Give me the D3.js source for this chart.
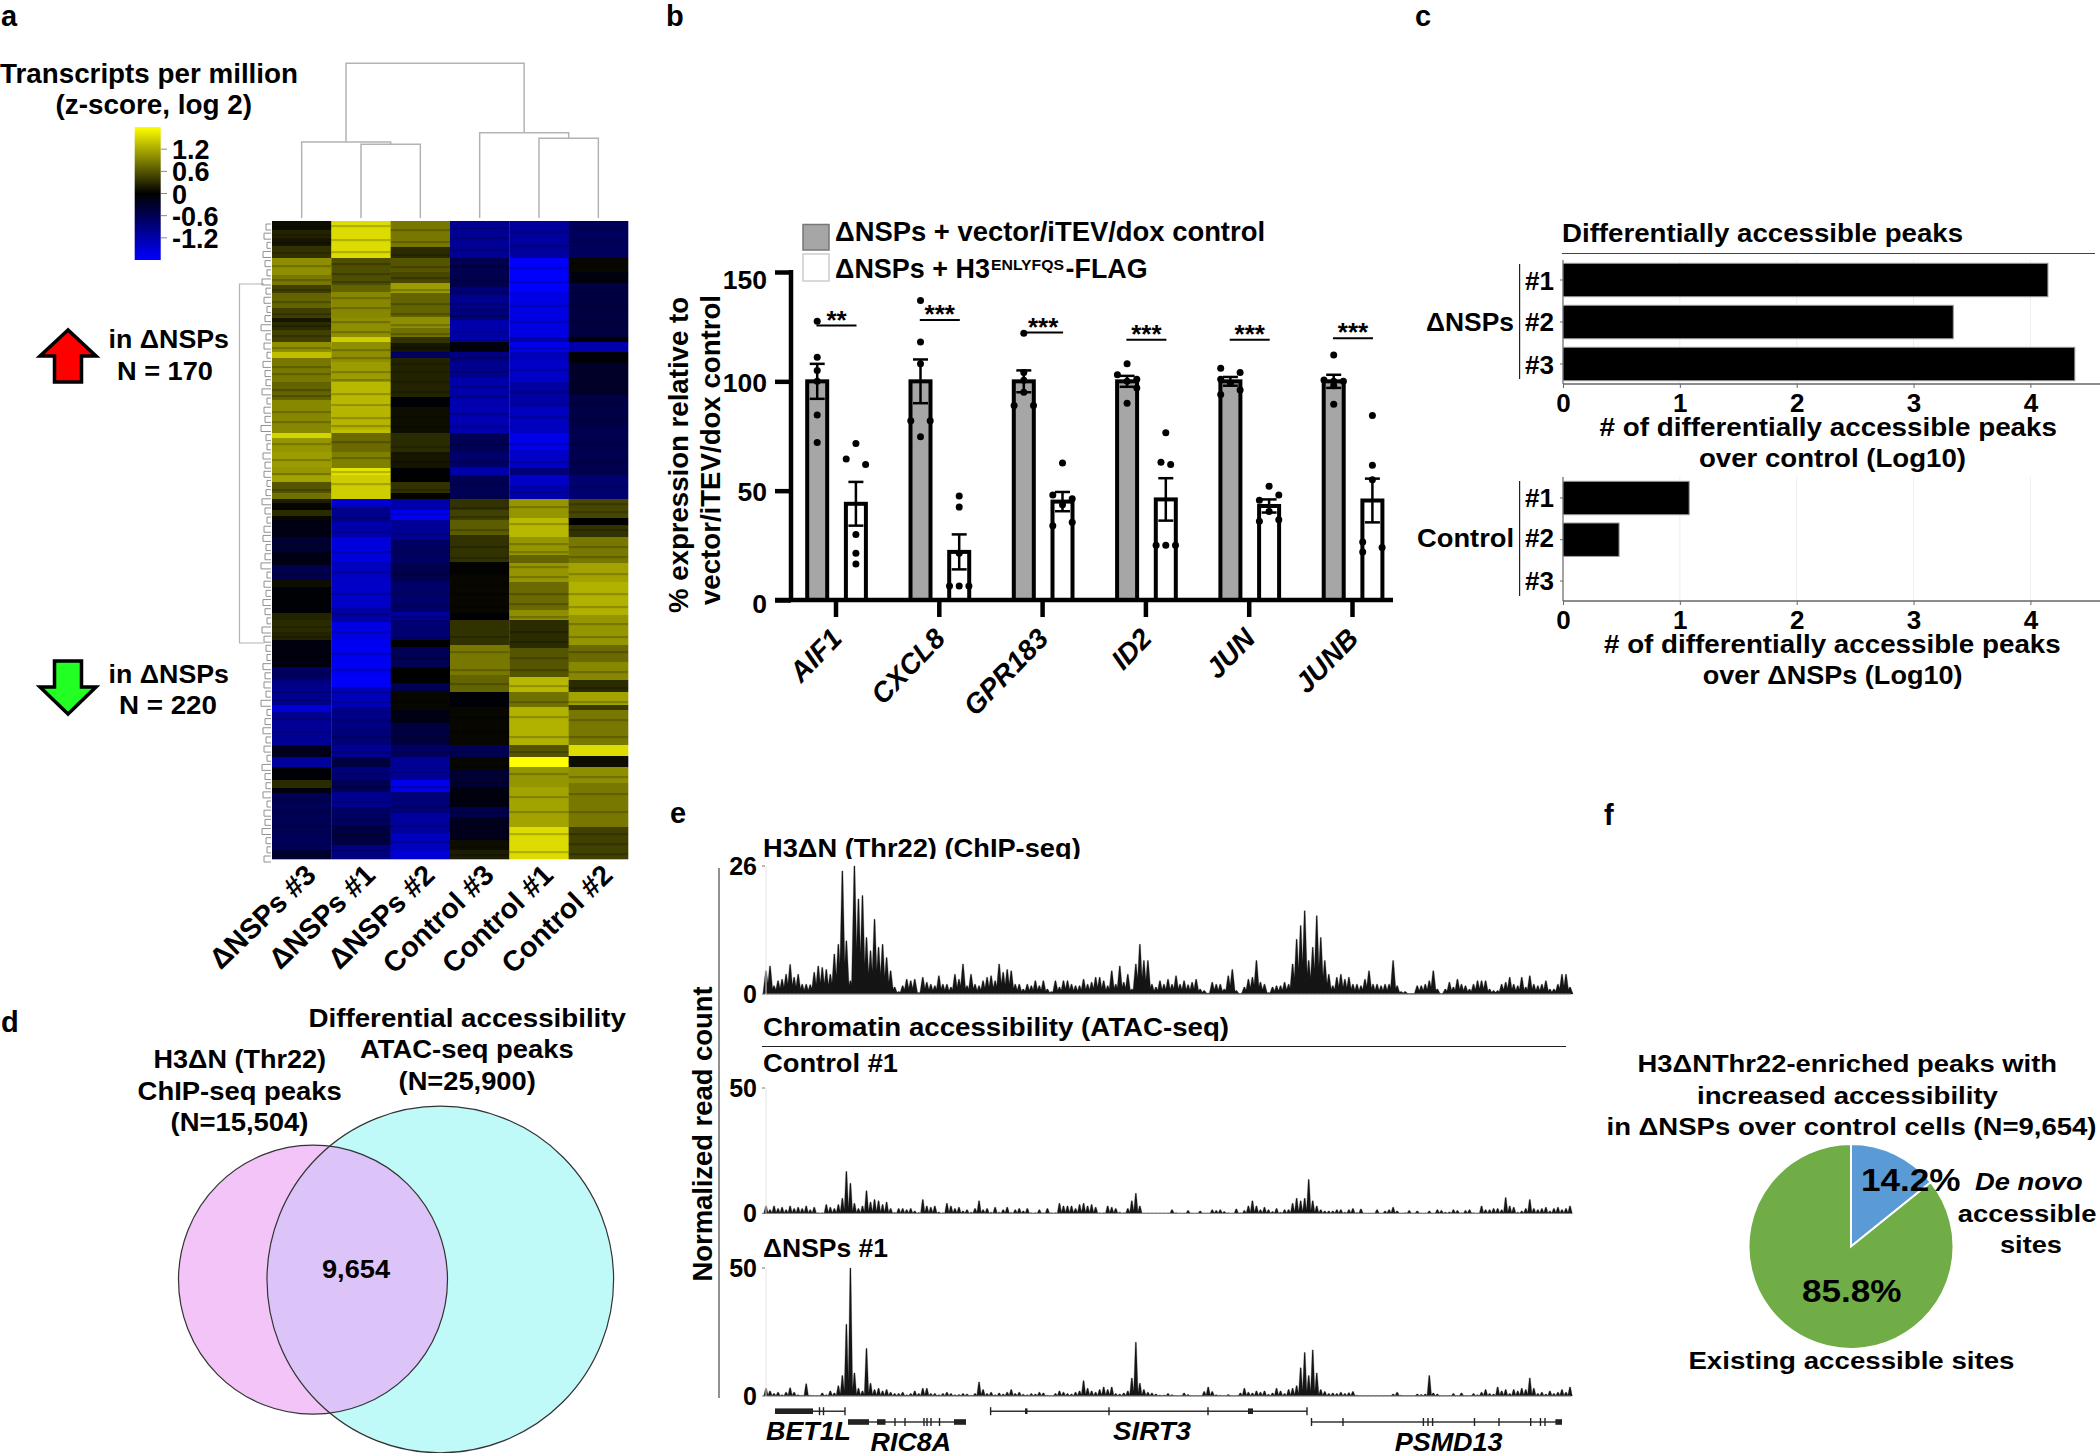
<!DOCTYPE html>
<html><head><meta charset="utf-8">
<script src="https://cdnjs.cloudflare.com/ajax/libs/d3/7.8.5/d3.min.js"></script>
<style>html,body{margin:0;background:#fff}svg{display:block}text{font-family:"Liberation Sans",Arial,sans-serif;font-weight:700;fill:#000}</style>
</head><body><svg id="c" width="2100" height="1453"></svg>
<script>
// ---------- DATA ----------
const heatSamples=["ΔNSPs #3","ΔNSPs #1","ΔNSPs #2","Control #3","Control #1","Control #2"];
// each column: [cluster-rank end of block, z-score]
const hmNsp3=[[9,.1],[17,.25],[25,.15],[37,.35],[54,1],[64,.85],[72,.45],[87,.7],[97,.45],[101,.15],[109,.3],[121,.45],[131,1],[137,1.35],[161,.85],[179,.7],[212,.95],[217,1.5],[231,1.05],[246,1.1],[254,1.05],[261,1.15],[272,.6],[278,.8],[282,.2],[289,.05],[295,.3],[299,.05],[316,-.15],[331,-.35],[344,-.15],[359,-.55],[366,.1],[392,-.05],[399,.25],[411,.3],[419,.25],[446,-.1],[459,-.7],[464,-.9],[484,-1],[491,-1.5],[524,-1.05],[536,-.2],[546,-1.1],[559,-.05],[567,.3],[572,-.1],[616,-.6],[629,-.65],[638,-.35]];
const hmNsp1=[[37,1.55],[64,.55],[71,.7],[97,.95],[116,1],[121,1.45],[141,1],[161,1.1],[187,1.3],[209,1.28],[212,1.35],[231,.75],[247,.9],[254,1.6],[278,1.45],[287,-1.5],[301,-1],[316,-1.2],[341,-1.55],[357,-1.35],[387,-1.4],[401,-1.15],[419,-1.6],[454,-1.7],[466,-1.75],[486,-1.3],[506,-.95],[524,-.85],[536,-1.05],[546,-.45],[559,-.85],[571,-.6],[586,-1],[604,-.7],[624,-.45],[638,-.9]];
const hmNsp2=[[26,.85],[37,.3],[51,.6],[62,.5],[72,1.1],[96,.7],[107,1],[116,.8],[122,.35],[131,.15],[137,-.7],[176,.25],[186,-.05],[212,.1],[231,.3],[247,.15],[261,-.02],[272,.35],[278,.02],[289,-1.2],[299,-1.7],[319,-1.05],[342,-.7],[361,-.55],[391,-.75],[399,-1.1],[419,-.8],[426,0],[446,-.6],[462,0],[471,-.6],[489,.05],[502,-.15],[524,-.45],[536,-.7],[559,-1.05],[571,-1.65],[592,-.85],[612,-1.1],[629,-1.35],[638,-1.5]];
const hmCtl3=[[37,-1.05],[66,-.55],[74,-.85],[87,-1],[99,-.85],[121,-1.2],[131,-.1],[141,-.9],[157,-1],[181,-1.2],[212,-1.25],[231,-.6],[246,-.75],[254,-1.2],[278,-.6],[289,.35],[299,.45],[314,.65],[341,.35],[354,.02],[392,.05],[399,-.05],[424,.35],[454,.85],[471,.7],[486,-.05],[524,.05],[536,-.6],[549,.05],[566,-.35],[586,-.1],[596,-.55],[619,-.2],[629,.1],[638,.2]];
const hmCtl1=[[37,-1.1],[71,-1.8],[116,-1.6],[121,-1.15],[131,-1.65],[139,-1.3],[161,-1.4],[186,-1.15],[212,-1.35],[229,-1.65],[247,-1.4],[254,-.85],[264,-1.4],[278,-1.2],[297,1.05],[316,1.3],[334,1.05],[342,.7],[361,1.05],[389,.75],[399,1],[427,.3],[456,.6],[471,1.3],[486,.8],[524,1.25],[536,.6],[546,1.8],[566,1.05],[606,1.15],[638,1.55]];
const hmCtl2=[[37,-.65],[51,.05],[62,-.1],[71,-.5],[116,-.45],[121,0],[131,-1.2],[142,-.05],[174,-.3],[207,-.5],[254,-.55],[278,-.8],[297,.5],[304,0],[316,.35],[342,.85],[361,1.15],[394,1.25],[424,1.05],[441,.75],[459,.95],[471,.3],[484,1.15],[489,.4],[524,.85],[535,1.55],[546,.1],[562,1],[606,.85],[638,.45]];
const heatColumns=[hmNsp3,hmNsp1,hmNsp2,hmCtl3,hmCtl1,hmCtl2];
// thin darker gene rows inside the blocks, per column
const stripeNsp3=[5,13,21,31,44,58,68,80,92,104,114,126,145,152,168,174,190,200,222,238,252,268,286,303,322,338,352,372,384,405,415,435,452,470,478,497,510,530,552,578,590,604,622,632];
const stripeNsp1=[4,18,30,42,52,60,76,86,100,110,128,136,150,158,172,183,196,204,220,236,250,262,285,296,310,330,350,372,392,410,432,448,470,480,498,515,530,552,565,580,598,612,628];
const stripeNsp2=[8,20,33,45,56,68,82,92,103,112,126,142,150,160,170,182,195,205,225,240,258,268,292,312,330,352,370,384,395,416,436,455,468,480,497,515,530,550,565,585,604,620];
const stripeCtl3=[6,16,28,44,58,70,82,94,110,118,136,150,165,175,192,205,222,240,262,275,286,295,308,325,336,348,362,372,385,396,415,430,448,462,478,495,510,530,545,560,575,590,610,625,633];
const stripeCtl1=[10,24,46,60,84,100,126,148,170,195,222,240,270,285,302,322,330,345,355,372,382,395,410,420,436,448,464,480,495,515,530,552,575,590,612,630];
const stripeCtl2=[6,20,42,58,66,84,100,118,136,150,165,182,198,222,240,265,282,290,308,325,335,352,372,385,402,415,430,450,466,480,498,515,540,555,572,590,612,622,632];
const heatStripes=[stripeNsp3,stripeNsp1,stripeNsp2,stripeCtl3,stripeCtl1,stripeCtl2];
const colourbarTicks=[1.2,.6,0,-.6,-1.2];
const rowTreeDepth=[4,6,3,7,5,3,8,4,6,3,5,9,4,6,3,7,5,4,8,3,6,5,9,4,3,7,5,6,3,4,8,5,3,6,7,4,5,9,3,6,4,7,5,3,8,6,4,3,7,5,6,4,9,3,5,7,4,6,3,8,5,4,7,3,6,5,8,4,3,6];
const genes=["AIF1","CXCL8","GPR183","ID2","JUN","JUNB"];
const controlMeans=[100,100,100,100,100,100];
const controlSem=[8,10,5,2.5,2,3];
const flagMeans=[44,22,45,46,43,45.5];
const flagSem=[10,8,4.4,9.7,3,10];
const controlDots=[[[0,127.5],[0,111],[0,105],[0,100],[0,84.6],[0,72]],[[0,137],[0,118],[0,108],[-1,82],[1,82],[0,74.6]],[[0,122],[0,104],[0,100.5],[0,95],[-1,89],[1,89]],[[0,108],[-1,103],[1,101],[0,100],[1,97],[0,90]],[[-1,106],[1,104],[-1,101],[0,99],[1,96],[-1,94]],[[0,112],[-1,100.6],[0,100],[1,100],[0,98],[0,89.5]]];
const flagDots=[[[0,71.6],[-1,64.5],[1,62],[0,30],[0,21.4],[0,16.5]],[[0,47.6],[0,42.5],[0,21.4],[-1,6.4],[0,6.4],[1,6.4]],[[0,62.7],[-1,48],[1,46.3],[0,43.6],[-1,34],[1,35.6]],[[0,76.5],[-.5,63],[.5,62],[-1,25],[0,25],[1,25]],[[0,52],[1,48],[-1,45.6],[0,40.5],[-1,36],[1,36.7]],[[0,84.4],[0,61.6],[0,55],[-1,26.5],[-1,22],[1,24]]];
const sigLevel=[125.5,128,122.3,119,119,119.7];
const sigStars=["**","***","***","***","***","***"];
const replicateLabels=["#1","#2","#3"];
const peaksNsp=[4.15,3.34,4.38];
const peaksControl=[1.08,.48,0];
const chipTrack=[4.7,5.7,1.7,2.7,3,4,6,3.4,4,2,2,1.9,4.4,5.7,5.4,5,4,8.1,10.1,25,10.8,2.7,26,19.3,20,11.5,8.8,15.2,9.5,10.1,7.4,4.7,1.4,.5,1.7,3,2.7,3,.3,3.4,2.4,2,1.7,3.7,2,2,1.4,4,3,6.1,1.7,4,2,1.7,2.7,3.4,3.7,2.7,6.1,4.4,5,4.7,2,2,1,2,1.7,2.7,1.7,2.7,1,.5,2.7,1.4,2.7,2.7,2,1.7,1.7,3,2,2.4,3.4,3.4,2.7,1.7,4.7,2,5.7,2.4,4,1,6.1,10.1,6.8,6.8,2,1.4,2.7,2,3,2,3.7,2,2.7,1.9,2.4,3,1,.7,.2,2.4,2,2,1,3.7,5,.7,.1,1.4,3,3.4,6.8,2.4,2,.3,1.4,1.7,1.7,2.4,2,6.1,11.1,13.9,16.9,6.8,9.5,15.9,11.5,6.8,4,1.7,3.4,4,3,3.4,2,2,1.7,3,4.7,2,2,1.7,2,2,6.8,1.7,.5,.5,.1,.1,1.7,1.7,2,2.7,4.7,1,.1,1,2.4,1.4,3,2,1.7,1,2,2.7,2.7,2.7,1,.7,.7,2,2.4,3.4,2,1.7,3.4,1.4,3.7,2,1.7,2,2.7,1,1,2,4,4,1.4];
const controlTrack=[3,1.5,3,2,2.5,1.5,3,2,2.5,2,3,1.5,2.5,.3,.3,3.5,2.5,2,3.5,6,16.7,12,4,2,3,9,4.5,5.5,5,3.5,4.5,2,.4,2,2,1.5,2,1,.4,5.5,3,2.5,3,.6,.3,4,3,2,2.5,1,1.5,.5,2,5,1.5,2,.5,2.5,.5,1.5,2.5,.4,1.5,2,1,2,.3,.3,1.5,.3,2,.3,.3,4,3,3,3,2,3.5,4,3,3.5,2.5,.3,.3,3,2.5,2,.5,.3,2,5,8,3,.2,.2,.2,.2,.2,.2,.2,1.5,.3,.2,.2,1.2,.2,.2,1,.2,.2,1.5,1.2,1.5,.8,.3,.2,1.8,.3,1.2,3,5,3,1.5,2.5,1.5,.8,2,.5,1.5,1.5,4,6,5,6,13.5,5,3,1.5,1,1,1,1.5,1.5,.5,1.5,2,.4,1.8,.2,.2,.2,1.5,.2,1,1.5,2.5,1,.2,.3,1.2,.2,1,.2,.2,1,.2,1.5,1.2,.5,.6,1.5,1.2,.3,1.2,1.5,.3,.2,3,1.5,1.5,2,2,1.5,6.3,3,2.5,.5,1,2,5.5,2,1.5,2,2.5,1,2,2.5,1.5,2,3];
const nspTrack=[3,2,1,1.5,.5,1.5,3.2,1.5,.5,.3,4.8,.3,.2,.2,1.2,.5,2,1.2,4,8,28,50,9,3,2,18.6,5,2.5,3,2,2.5,1.5,1,1,1.5,.5,1,2,1,3,3,1,1,.5,1,1.5,1,.5,.6,1,.8,.3,1,5.5,2.5,1,1.5,.5,1.2,.8,1.5,2.5,1,1.5,.7,.5,1,.8,1.5,1.2,.3,.2,1,2,1.5,1,.8,1.5,2,6,3,2,1.5,2.5,3.5,2.5,3.5,1,.8,1.2,2,7,21,5,2.5,1.5,1.2,.8,.4,.4,1,.5,.2,.2,1.2,.6,.2,.2,.2,1.8,3.5,1.8,.5,.3,.2,.6,.2,.2,1.2,3,1.5,1.2,2,1.5,2,.7,1.2,3,2,1,2.5,3,4,11,17,8,18,9,2.5,1.8,1,1.2,1,1.5,1,1.3,1.8,.3,.2,.2,.2,.2,.2,.2,.2,.2,.8,1.5,.3,.2,.2,.2,.8,.6,.8,8,1.2,.8,.2,.2,.2,1,.2,1.2,.2,.2,1,.5,1.5,2.5,1,.8,3.5,2,2.5,1,2.5,2,3,2.5,7,3,1,1.5,.8,2,1,1.5,2.5,1.5,3.5];
// gene models on a 0–804 kb-like coordinate
const geneModels=[
 {name:"BET1L",row:0,start:9,end:79,thick:[[9,47]],exons:[53.5,57.5,79]},
 {name:"RIC8A",row:1,start:82,end:200,thick:[[82,103],[111,119.5],[188,200]],exons:[129,139,158,161,165,173.5]},
 {name:"SIRT3",row:0,start:224.6,end:541,thick:[[259,261.5],[482,487]],exons:[224.6,343,442,541]},
 {name:"PSMD13",row:1,start:545.5,end:796,thick:[[789.4,796]],exons:[545.5,577,657.4,662,666.6,708.5,733,764.7,774.5,779]}
];
const pieShares=[14.2,85.8];
const pieColours=["#5b9bd5","#70ad47"];

// ---------- HELPERS ----------
const svg=d3.select("#c");
function T(s,x0,x1,y,size,o={}){
  const t=svg.append("text").attr("x",x0).attr("y",y).attr("font-size",size).text(s);
  if(x1!=null)t.attr("textLength",x1-x0).attr("lengthAdjust","spacingAndGlyphs");
  if(o.italic)t.attr("font-style","italic");
  if(o.anchor)t.attr("text-anchor",o.anchor);
  return t;
}
function V(s,xBase,yMid,len,size){
  return svg.append("text").attr("transform",`translate(${xBase},${yMid}) rotate(-90)`).attr("text-anchor","middle")
   .attr("font-size",size).attr("textLength",len).attr("lengthAdjust","spacingAndGlyphs").text(s);
}
[["a",1,26],["b",666,26],["c",1415,26],["d",1,1032],["e",670,823],["f",1604,825]].forEach(d=>T(d[0],d[1],null,d[2],29));

// ---------- PANEL a ----------
T("Transcripts per million",0,298,83,27);
T("(z-score, log 2)",55.5,252,114,27);
const colour=d3.scaleLinear().domain([-1.8,0,1.8]).range(["#0000ff","#000000","#ffff00"]);
const defs=svg.append("defs");
const lg=defs.append("linearGradient").attr("id","cb").attr("x1",0).attr("x2",0).attr("y1",0).attr("y2",1);
d3.range(0,1.001,.05).forEach(f=>lg.append("stop").attr("offset",f).attr("stop-color",colour(1.8-3.6*f)));
const cbY=d3.scaleLinear().domain([1.8,-1.8]).range([127,260]);
svg.append("rect").attr("x",134.7).attr("y",127).attr("width",26).attr("height",133).attr("fill","url(#cb)");
colourbarTicks.forEach(v=>{
  svg.append("line").attr("x1",161).attr("x2",167).attr("y1",cbY(v)).attr("y2",cbY(v)).attr("stroke","#888").attr("stroke-width",1);
  T(v===0?"0":(v<0?"-":"")+Math.abs(v).toFixed(1),172,null,cbY(v)+10,27);
});
const hx=d3.scaleBand().domain(heatSamples).range([272,628]);
const hy=d3.scaleLinear().domain([0,638]).range([221,859]);
heatColumns.forEach((col,c)=>{
  let prev=0;
  col.forEach(([end,z])=>{
    svg.append("rect").attr("x",hx(heatSamples[c])).attr("width",hx.bandwidth()+.3)
      .attr("y",hy(prev)).attr("height",hy(end)-hy(prev)+.3).attr("fill",colour(z));
    prev=end;
  });
  heatStripes[c].forEach(r=>{
    svg.append("rect").attr("x",hx(heatSamples[c])).attr("width",hx.bandwidth())
      .attr("y",hy(r)).attr("height",2.2).attr("fill","#000").attr("opacity",.2);
  });
});
// column dendrogram
const cx=i=>hx(heatSamples[i])+hx.bandwidth()/2;
const dg=svg.append("g").attr("fill","none").attr("stroke","#b3b3b3").attr("stroke-width",1.5);
const u=(a,ya,b,yb,top)=>dg.append("path").attr("d",`M${a},${ya}V${top}H${b}V${yb}`);
u(cx(1),218,cx(2),218,144.3);
const m12=(cx(1)+cx(2))/2;
u(cx(0),218,m12,144.3,142);
u(cx(4),218,cx(5),218,138.3);
const m45=(cx(4)+cx(5))/2;
u(cx(3),218,m45,138.3,132.7);
u(346,142,(cx(3)+m45)/2,132.7,63.3);
// row dendrogram
const rg=svg.append("g").attr("fill","none").attr("stroke","#b3b3b3").attr("stroke-width",1.2);
rg.append("path").attr("d","M264,284H239.5V643H264");
const rowY=d3.scaleLinear().domain([0,rowTreeDepth.length-1]).range([224,856]);
rowTreeDepth.forEach((d,i)=>{
  rg.append("path").attr("stroke","#858585").attr("stroke-width",.9).attr("d",`M${271},${rowY(i)}H${270-d}V${rowY(i)+6}H${271}`);
});
const arrow=(pts,fill)=>svg.append("path").attr("d","M"+pts.map(p=>p.join(",")).join("L")+"Z").attr("fill",fill).attr("stroke","#000").attr("stroke-width",3.5).attr("stroke-linejoin","miter");
arrow([[68,330],[40,356],[54.5,356],[54.5,382],[81.5,382],[81.5,356],[96,356]],"#ff0000");
arrow([[68,714],[40,687],[54.5,687],[54.5,661],[81.5,661],[81.5,687],[96,687]],"#22ff22");
T("in ΔNSPs",108.6,229,348,26);T("N = 170",117,213,380,26);
T("in ΔNSPs",108.6,229,683,26);T("N = 220",119,217,714,26);
heatSamples.forEach((s,i)=>{
  svg.append("text").attr("transform",`translate(${cx(i)+16},${877}) rotate(-44)`).attr("text-anchor","end").attr("font-size",28.5).text(s);
});

// ---------- PANEL b ----------
const by=d3.scaleLinear().domain([0,150]).range([600,272]);
const bx=d3.scalePoint().domain(genes).range([835.5,1352]);
const ax=svg.append("g");
const ya=d3.axisLeft(by).tickValues([0,50,100,150]).tickSize(16).tickPadding(8);
const xa=d3.axisBottom(bx).tickSize(17).tickFormat("");
const gy=ax.append("g").attr("transform","translate(791,0)").call(ya);
gy.selectAll("path,line").attr("stroke","#000").attr("stroke-width",4.5);
gy.select("path").attr("d","M0,600V270");
gy.selectAll("text").attr("font-size",26.5).attr("dy",d=>d===150?"0.62em":d===0?"0.46em":"0.38em").attr("font-family",'"Liberation Sans"').attr("font-weight",700).attr("fill","#000");
const gx=ax.append("g").attr("transform","translate(0,600)").call(xa);
gx.selectAll("path,line").attr("stroke","#000").attr("stroke-width",4.5);
gx.select("path").attr("d","M775,0H1393");
const bw=20, off=[-18.3,20.4];
const drawSeries=(means,sem,dots,fill,k)=>{
  genes.forEach((g,i)=>{
    const c=bx(g)+off[k];
    svg.insert("rect","g").attr("x",c-bw/2).attr("width",bw).attr("y",by(means[i])).attr("height",by(0)-by(means[i])).attr("fill",fill).attr("stroke","#000").attr("stroke-width",4);
    const e=svg.append("g").attr("stroke","#000").attr("stroke-width",2.5);
    e.append("line").attr("x1",c).attr("x2",c).attr("y1",by(means[i]+sem[i])).attr("y2",by(means[i]-sem[i]));
    [1,-1].forEach(s=>e.append("line").attr("x1",c-7.5).attr("x2",c+7.5).attr("y1",by(means[i]+s*sem[i])).attr("y2",by(means[i]+s*sem[i])));
    dots[i].forEach(([j,v])=>svg.append("circle").attr("cx",c+j*9.7).attr("cy",by(v)).attr("r",3.5).attr("fill","#000"));
  });
};
drawSeries(controlMeans,controlSem,controlDots,"#a6a6a6",0);
drawSeries(flagMeans,flagSem,flagDots,"#fff",1);
genes.forEach((g,i)=>{
  const c=bx(g)+1, ly=by(sigLevel[i]);
  svg.append("line").attr("x1",c-20).attr("x2",c+20).attr("y1",ly).attr("y2",ly).attr("stroke","#000").attr("stroke-width",2);
  svg.append("text").attr("x",c).attr("y",ly+3).attr("text-anchor","middle").attr("font-size",26).text(sigStars[i]);
  svg.append("text").attr("transform",`translate(${bx(g)+8},${640}) rotate(-46)`).attr("text-anchor","end").attr("font-size",28).attr("font-style","italic").text(g);
});
V("% expression relative to",688,455,316,27);
V("vector/iTEV/dox control",720,450,310,27);
svg.append("rect").attr("x",803).attr("y",224.5).attr("width",26).attr("height",25.5).attr("fill","#a6a6a6").attr("stroke","#777").attr("stroke-width",1.5);
svg.append("rect").attr("x",803).attr("y",254).attr("width",26).attr("height",27).attr("fill","#fff").attr("stroke","#ccc").attr("stroke-width",1.5);
T("ΔNSPs + vector/iTEV/dox control",835,1265,241,27);
T("ΔNSPs + H3",835,990,278,27);T("ENLYFQS",991,1064,270,15);T("-FLAG",1065.6,1147.5,278,27);

// ---------- PANEL c ----------
T("Differentially accessible peaks",1562,1963,242,26);
svg.append("line").attr("x1",1562).attr("x2",2095).attr("y1",253.5).attr("y2",253.5).attr("stroke","#444").attr("stroke-width",1.2);
const cxs=d3.scaleLinear().domain([0,4]).range([1563,2030.4]);
function hbars(vals,top,axisY,ys,labelYs){
  const g=svg.append("g");
  [1,2,3,4].forEach(v=>g.append("line").attr("x1",cxs(v)).attr("x2",cxs(v)).attr("y1",top).attr("y2",axisY).attr("stroke","#eeeeee"));
  const a=g.append("g").attr("transform",`translate(0,${axisY})`).call(d3.axisBottom(cxs).tickValues([0,1,2,3,4]).tickSize(4).tickFormat(d3.format("d")).tickPadding(6));
  a.select("path").attr("d",`M1563,0H2100`).attr("stroke","#666").attr("stroke-width",1.6);
  a.selectAll("line").attr("stroke","#666");
  a.selectAll("text").attr("font-size",26).attr("font-family",'"Liberation Sans"').attr("font-weight",700).attr("fill","#000").attr("dy",".71em");
  g.append("line").attr("x1",1563).attr("x2",1563).attr("y1",top).attr("y2",axisY).attr("stroke","#666").attr("stroke-width",1.2);
  vals.forEach((v,i)=>{
    if(v>0)g.append("rect").attr("x",1563).attr("y",ys[i]-16.7).attr("width",cxs(v)-1563).attr("height",33.4).attr("fill","#000").attr("stroke","#999").attr("stroke-width",1);
    g.append("line").attr("x1",1560).attr("x2",1563).attr("y1",ys[i]).attr("y2",ys[i]).attr("stroke","#666");
    T(replicateLabels[i],1525,1554,labelYs[i],26);
  });
}
hbars(peaksNsp,260,384,[280,322,364],[290,331,374]);
hbars(peaksControl,477,601,[498,539.7,581],[507,547,590]);
svg.append("line").attr("x1",1519.6).attr("x2",1519.6).attr("y1",264).attr("y2",379).attr("stroke","#222").attr("stroke-width",1.2);
svg.append("line").attr("x1",1519.6).attr("x2",1519.6).attr("y1",481).attr("y2",596).attr("stroke","#222").attr("stroke-width",1.2);
T("ΔNSPs",1426,1514,331,26);T("Control",1417,1514,547,26);
T("# of differentially accessible peaks",1599.6,2057,436,26);
T("over control (Log10)",1699,1966,467,26);
T("# of differentially accessible peaks",1604,2060.7,653,26);
T("over ΔNSPs (Log10)",1702.7,1962.5,684,26);

// ---------- PANEL d ----------
const vennLeft={cx:313,cy:1279.7,r:134.5}, vennRight={cx:440.3,cy:1279.5,r:173.3};
defs.append("clipPath").attr("id","vr").append("circle").attr("cx",vennRight.cx).attr("cy",vennRight.cy).attr("r",vennRight.r);
svg.append("circle").attr("cx",vennLeft.cx).attr("cy",vennLeft.cy).attr("r",vennLeft.r).attr("fill","#f2c4f8");
svg.append("circle").attr("cx",vennRight.cx).attr("cy",vennRight.cy).attr("r",vennRight.r).attr("fill","#c0faf8");
svg.append("circle").attr("cx",vennLeft.cx).attr("cy",vennLeft.cy).attr("r",vennLeft.r).attr("fill","#dcc4f8").attr("clip-path","url(#vr)");
[vennLeft,vennRight].forEach(v=>svg.append("circle").attr("cx",v.cx).attr("cy",v.cy).attr("r",v.r).attr("fill","none").attr("stroke","#333").attr("stroke-width",1.2));
T("H3ΔN (Thr22)",153.6,326,1068,25.5);T("ChIP-seq peaks",137.6,341.8,1100,25.5);T("(N=15,504)",170.5,308.5,1131,25.5);
T("Differential accessibility",308.5,626,1027,25.5);T("ATAC-seq peaks",360,573.7,1058,25.5);T("(N=25,900)",398.6,535.8,1090,25.5);
T("9,654",322,390,1278,26);

// ---------- PANEL e ----------
T("H3ΔN (Thr22) (ChIP-seq)",763,1080.7,857,25.5);
svg.append("rect").attr("x",760).attr("y",859).attr("width",340).attr("height",10).attr("fill","#fff");
T("Chromatin accessibility (ATAC-seq)",763,1229,1036,25.5);
svg.append("line").attr("x1",762).attr("x2",1566).attr("y1",1046.5).attr("y2",1046.5).attr("stroke","#222").attr("stroke-width",1.2);
T("Control #1",763,898,1071.5,25.5);T("ΔNSPs #1",763,888,1257,25.5);
const tx=d3.scaleLinear().domain([0,200]).range([766,1570]);
function track(vals,yScale,ticks,hw){
  const b=yScale(0);
  let d="";
  vals.forEach((v,i)=>{const x=tx(i);d+=`M${x-hw},${b}L${x-.5},${yScale(v)}L${x+.5},${yScale(v)}L${x+hw},${b}Z`;});
  svg.append("path").attr("d",d).attr("fill","#151515").attr("stroke","#151515").attr("stroke-width",.3);
  svg.append("line").attr("x1",766).attr("x2",1571).attr("y1",b).attr("y2",b).attr("stroke","#888").attr("stroke-width",1);
  svg.append("line").attr("x1",766).attr("x2",766).attr("y1",yScale(ticks[1])).attr("y2",b).attr("stroke","#e4e4e4").attr("stroke-width",1);
  ticks.forEach(t=>{
    svg.append("line").attr("x1",762).attr("x2",765).attr("y1",yScale(t)).attr("y2",yScale(t)).attr("stroke","#777");
    svg.append("text").attr("x",757).attr("y",yScale(t)+9).attr("text-anchor","end").attr("font-size",25).text(t);
  });
}
track(chipTrack,d3.scaleLinear().domain([0,26]).range([994,866]),[0,26],3.1);
track(controlTrack,d3.scaleLinear().domain([0,50]).range([1213.4,1088]),[0,50],2.3);
track(nspTrack,d3.scaleLinear().domain([0,50]).range([1396,1268]),[0,50],2.3);
svg.append("line").attr("x1",719).attr("x2",719).attr("y1",868).attr("y2",1398).attr("stroke","#555").attr("stroke-width",1.3);
V("Normalized read count",711.6,1134,295,27);
const gxs=d3.scaleLinear().domain([0,804]).range([766,1570]);
const rowYs=[1411.2,1422];
const nameX={BET1L:[766,851,1440],RIC8A:[870.6,951,1451],SIRT3:[1113,1191,1440],PSMD13:[1394.7,1502.6,1451]};
geneModels.forEach(g=>{
  const y=rowYs[g.row];
  svg.append("line").attr("x1",gxs(g.start)).attr("x2",gxs(g.end)).attr("y1",y).attr("y2",y).attr("stroke","#333").attr("stroke-width",1.5);
  g.thick.forEach(t=>svg.append("rect").attr("x",gxs(t[0])).attr("width",gxs(t[1])-gxs(t[0])).attr("y",y-2.8).attr("height",5.6).attr("fill","#222"));
  g.exons.forEach(e=>svg.append("line").attr("x1",gxs(e)).attr("x2",gxs(e)).attr("y1",y-4).attr("y2",y+4).attr("stroke","#222").attr("stroke-width",1.4));
  const n=nameX[g.name];
  T(g.name,n[0],n[1],n[2],26,{italic:true});
});

// ---------- PANEL f ----------
T("H3ΔNThr22-enriched peaks with",1637.5,2057,1072,23);
T("increased accessibility",1697,1998,1103.5,23);
T("in ΔNSPs over control cells (N=9,654)",1606.5,2096.5,1135,23);
const pie=d3.pie().sort(null)(pieShares);
const arc=d3.arc().innerRadius(0).outerRadius(102.5);
svg.append("g").attr("transform","translate(1851,1246.5)").selectAll("path").data(pie).join("path")
 .attr("d",arc).attr("fill",(d,i)=>pieColours[i]).attr("stroke","#fff").attr("stroke-width",2);
T("14.2%",1861,1960.5,1191,32);T("85.8%",1802,1901.6,1302,32);
T("De novo",1975,2082.7,1190,23,{italic:true});
T("accessible",1957.7,2096.5,1221.7,23);T("sites",2000,2062,1253,23);
T("Existing accessible sites",1688.4,2014.5,1369,23);
</script></body></html>
